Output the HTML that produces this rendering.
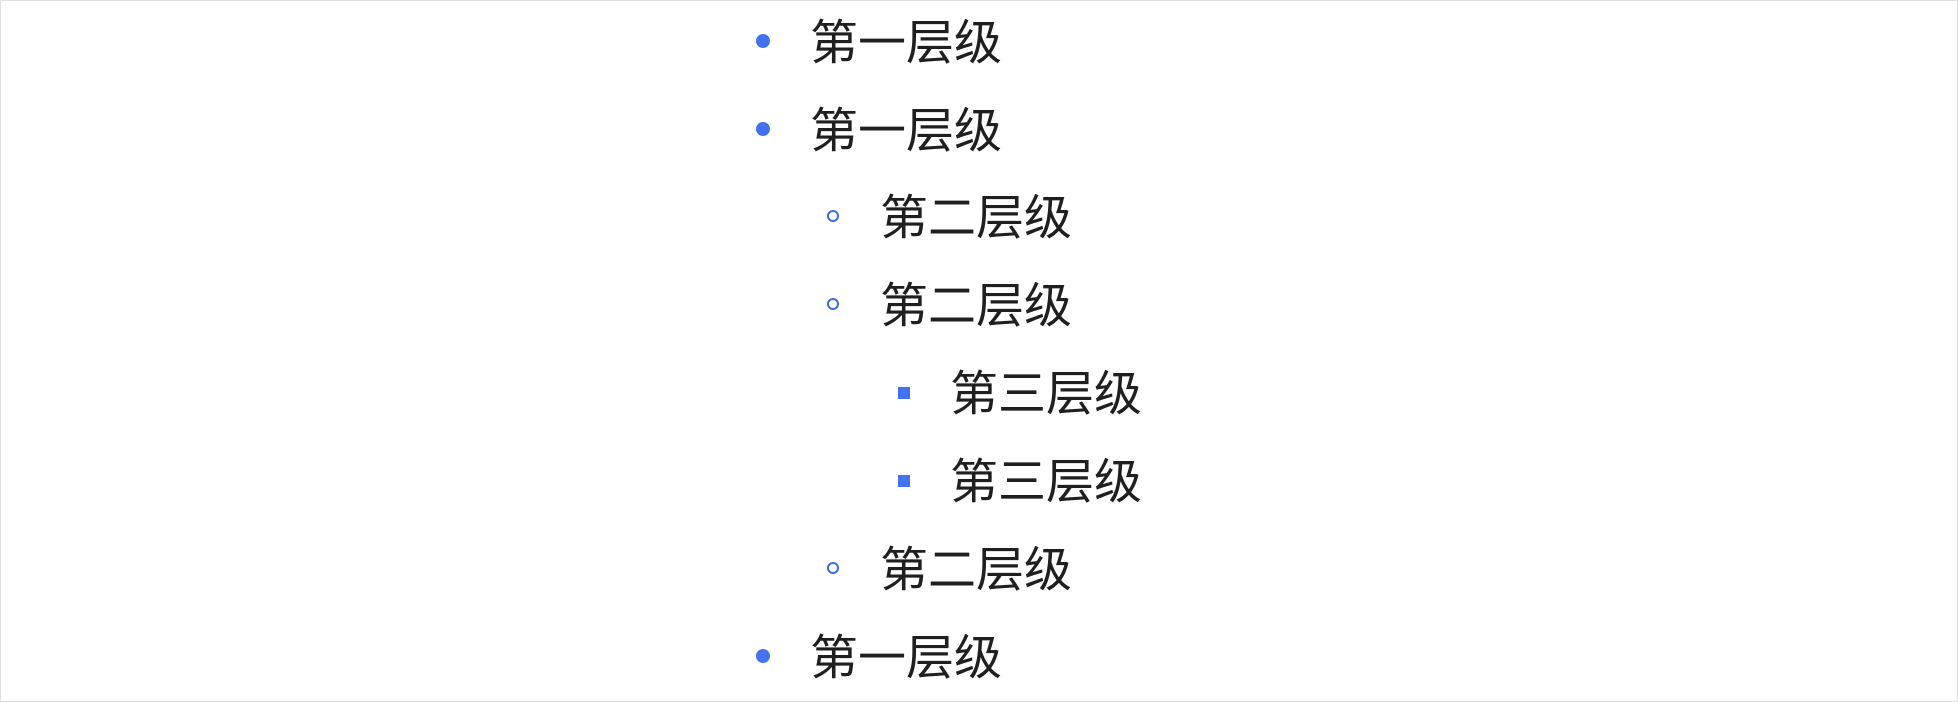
<!DOCTYPE html>
<html><head><meta charset="utf-8"><style>
html,body{margin:0;padding:0;background:#fff;}
#c{position:relative;width:1956px;height:700px;border:1px solid #e0e0e0;overflow:hidden;}
.t{position:absolute;font-family:"Liberation Sans","Noto Sans CJK SC",sans-serif;font-size:48px;line-height:60px;height:60px;color:#1f1f1f;white-space:nowrap;}
.b{position:absolute;}
.l1{width:14px;height:14px;border-radius:50%;background:#4272f0;}
.l2{width:8px;height:8px;border-radius:50%;border:2px solid #3a6cf0;}
.l3{width:12px;height:12px;background:#4272f0;}
</style></head><body><div id="c">
<div class="b l1" style="left:755px;top:33px"></div><div class="t" style="left:809px;top:13px">第一层级</div>
<div class="b l1" style="left:755px;top:121px"></div><div class="t" style="left:809px;top:101px">第一层级</div>
<div class="b l2" style="left:826px;top:209px"></div><div class="t" style="left:879px;top:188px">第二层级</div>
<div class="b l2" style="left:826px;top:297px"></div><div class="t" style="left:879px;top:276px">第二层级</div>
<div class="b l3" style="left:897px;top:386px"></div><div class="t" style="left:949px;top:364px">第三层级</div>
<div class="b l3" style="left:897px;top:474px"></div><div class="t" style="left:949px;top:452px">第三层级</div>
<div class="b l2" style="left:826px;top:561px"></div><div class="t" style="left:879px;top:540px">第二层级</div>
<div class="b l1" style="left:755px;top:648px"></div><div class="t" style="left:809px;top:628px">第一层级</div>
</div></body></html>
